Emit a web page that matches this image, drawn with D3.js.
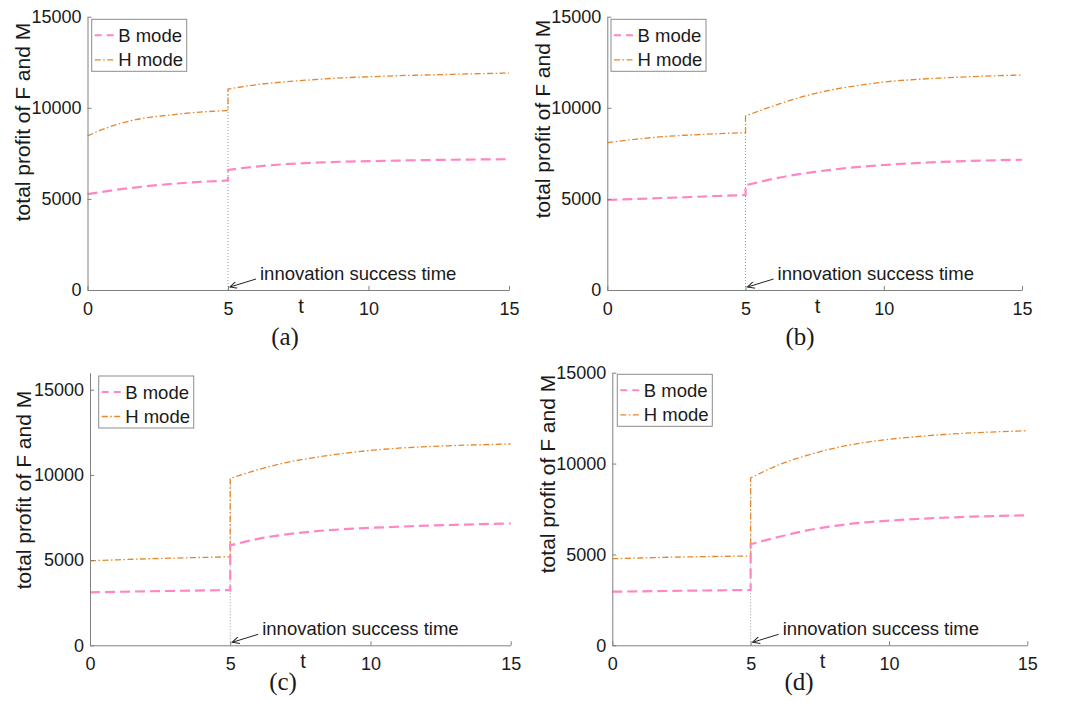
<!DOCTYPE html>
<html>
<head>
<meta charset="utf-8">
<script src="https://cdn.jsdelivr.net/npm/d3@7"></script>
<style>
  body { margin: 0; background: #fff; }
  svg { display: block; }
  text { font-family: "Liberation Sans", Arial, sans-serif; fill: #1a1a1a; }
</style>
</head>
<body>
<svg id="chart"></svg>
<script>
// time points, before and after the innovation success time (t = 5)
const tPre = [0, 1, 2, 3, 4, 5];
const tPost = [5, 6, 7, 8, 9, 10, 11, 12, 13, 14, 15];

const xTicks = [0, 5, 10, 15];
const yTicks = [0, 5000, 10000, 15000];
const yMax = [15000, 15000, 16000, 15000];
const seriesNames = ["B mode", "H mode"];
const panelLabels = ["(a)", "(b)", "(c)", "(d)"];
const successTime = 5;

// (a)
const bPreA  = [5258, 5495, 5678, 5824, 5934, 6007];
const bPostA = [6593, 6776, 6900, 6980, 7040, 7070, 7100, 7130, 7150, 7165, 7179];
const hPreA  = [8460, 9066, 9430, 9615, 9762, 9852];
const hPostA = [11026, 11264, 11420, 11540, 11640, 11703, 11760, 11800, 11840, 11875, 11905];
// (b)
const bPreB  = [4940, 4995, 5050, 5104, 5159, 5214];
const bPostB = [5745, 6100, 6373, 6580, 6739, 6860, 6952, 7023, 7077, 7118, 7149];
const hPreB  = [8085, 8271, 8414, 8507, 8578, 8633];
const hPostB = [9550, 10099, 10580, 10950, 11210, 11416, 11540, 11630, 11700, 11755, 11800];
// (c)
const bPreC  = [3107, 3142, 3168, 3195, 3220, 3241];
const bPostC = [5862, 6250, 6510, 6690, 6810, 6893, 6960, 7020, 7070, 7115, 7151];
const hPreC  = [4959, 5018, 5076, 5117, 5158, 5193];
const hPostC = [9789, 10316, 10727, 11020, 11254, 11440, 11570, 11660, 11725, 11775, 11817];
// (d)
const bPreD  = [2949, 2970, 2990, 3010, 3028, 3043];
const bPostD = [5558, 5959, 6306, 6565, 6746, 6856, 6950, 7020, 7080, 7120, 7153];
const hPreD  = [4765, 4804, 4844, 4873, 4895, 4914];
const hPostD = [9206, 9921, 10433, 10840, 11132, 11335, 11480, 11600, 11690, 11755, 11808];

const panelData = [
  { b: [bPreA, bPostA], h: [hPreA, hPostA] },
  { b: [bPreB, bPostB], h: [hPreB, hPostB] },
  { b: [bPreC, bPostC], h: [hPreC, hPostC] },
  { b: [bPreD, bPostD], h: [hPreD, hPostD] }
];

// layout of each subplot (pixels)
const layout = [
  { left: 87.5, right: 509,   bottom: 290,   top: 16.7,  legX: 91.7,  legY: 19.3,  labX: 285, labY: 345, ylabX: 30,    ylabY: 122 },
  { left: 607.3, right: 1022, bottom: 290,   top: 16.7,  legX: 611,   legY: 19.3,  labX: 800, labY: 345, ylabX: 550,   ylabY: 119 },
  { left: 90,   right: 510.7, bottom: 645.3, top: 372.7, legX: 98.7,  legY: 376,   labX: 283, labY: 690, ylabX: 31,    ylabY: 490 },
  { left: 612.3, right: 1027.3, bottom: 645.3, top: 372.7, legX: 617.3, legY: 374.3, labX: 799, labY: 690, ylabX: 554.5, ylabY: 474 }
];

const W = 1069, H = 702;
const pink = "#ff86c4";
const orange = "#e8862a";
const axisGray = "#808080";

const svg = d3.select("#chart").attr("width", W).attr("height", H);

svg.append("defs").append("marker")
  .attr("id", "arrow")
  .attr("viewBox", "0 0 10 10")
  .attr("refX", 10).attr("refY", 5)
  .attr("markerWidth", 9).attr("markerHeight", 7)
  .attr("markerUnits", "userSpaceOnUse")
  .attr("orient", "auto")
  .append("path")
  .attr("d", "M0,0 L10,5 L0,10")
  .attr("fill", "none")
  .attr("stroke", "#222")
  .attr("stroke-width", 1.4);

layout.forEach((L, i) => {
  const data = panelData[i];
  const x = d3.scaleLinear().domain([0, 15]).range([L.left, L.right]);
  const y = d3.scaleLinear().domain([0, yMax[i]]).range([L.bottom, L.top]);

  const g = svg.append("g");

  const line = d3.line()
    .x(d => x(d[0]))
    .y(d => y(d[1]))
    .curve(d3.curveMonotoneX);

  const pathOf = (pre, post) =>
    line(tPre.map((t, k) => [t, pre[k]])) +
    line(tPost.map((t, k) => [t, post[k]])).replace(/^M/, "L");

  // dotted marker of the success time
  g.append("line")
    .attr("x1", x(successTime)).attr("x2", x(successTime))
    .attr("y1", y(0)).attr("y2", y(data.h[1][0]))
    .attr("stroke", "#9a9a9a")
    .attr("stroke-width", 1)
    .attr("stroke-dasharray", "1,2");

  g.append("path")
    .attr("d", pathOf(data.h[0], data.h[1]))
    .attr("fill", "none")
    .attr("stroke", orange)
    .attr("stroke-width", 1.3)
    .attr("stroke-dasharray", "6,2.5,1.5,2.5");

  g.append("path")
    .attr("d", pathOf(data.b[0], data.b[1]))
    .attr("fill", "none")
    .attr("stroke", pink)
    .attr("stroke-width", 2.2)
    .attr("stroke-dasharray", "10,5");

  // axes, MATLAB style ticks pointing inward
  const xAxis = d3.axisBottom(x).tickValues(xTicks).tickSizeInner(-4).tickSizeOuter(0).tickPadding(12);
  const yAxis = d3.axisLeft(y).tickValues(yTicks).tickFormat(d3.format("d"))
    .tickSizeInner(-4).tickSizeOuter(0).tickPadding(6);

  g.append("g")
    .attr("transform", "translate(0," + L.bottom + ")")
    .call(xAxis)
    .call(a => a.selectAll("path, line").attr("stroke", axisGray))
    .call(a => a.selectAll("text").style("font-size", "18px").attr("fill", "#1a1a1a"));

  g.append("g")
    .attr("transform", "translate(" + L.left + ",0)")
    .call(yAxis)
    .call(a => a.selectAll("path, line").attr("stroke", axisGray))
    .call(a => a.selectAll("text").style("font-size", "18px").attr("fill", "#1a1a1a"));

  // axis titles
  g.append("text")
    .attr("x", x(7.6)).attr("y", L.bottom + 23)
    .attr("text-anchor", "middle")
    .style("font-size", "20px")
    .text("t");

  g.append("text")
    .attr("transform", "translate(" + L.ylabX + "," + L.ylabY + ") rotate(-90)")
    .attr("text-anchor", "middle")
    .style("font-size", "21px")
    .text("total profit of F and M");

  // annotation
  const ax = x(successTime), ay = y(0);
  g.append("line")
    .attr("x1", ax + 28).attr("y1", ay - 11)
    .attr("x2", ax + 2).attr("y2", ay - 3)
    .attr("stroke", "#222")
    .attr("stroke-width", 1)
    .attr("marker-end", "url(#arrow)");

  g.append("text")
    .attr("x", ax + 32).attr("y", ay - 10)
    .style("font-size", "18.5px")
    .text("innovation success time");

  // legend
  const leg = g.append("g").attr("transform", "translate(" + L.legX + "," + L.legY + ")");
  leg.append("rect")
    .attr("width", 95).attr("height", 52)
    .attr("fill", "#fff")
    .attr("stroke", "#8c8c8c")
    .attr("stroke-width", 1);

  seriesNames.forEach((name, k) => {
    const cy = 16 + k * 24.5;
    leg.append("line")
      .attr("x1", 3).attr("x2", 24)
      .attr("y1", cy).attr("y2", cy)
      .attr("stroke", k === 0 ? pink : orange)
      .attr("stroke-width", k === 0 ? 2 : 1.3)
      .attr("stroke-dasharray", k === 0 ? "7,5" : "6,2.5,1.5,2.5");
    leg.append("text")
      .attr("x", 26.5).attr("y", cy + 6.5)
      .style("font-size", "18.5px")
      .text(name);
  });

  // subplot label
  g.append("text")
    .attr("x", L.labX).attr("y", L.labY)
    .attr("text-anchor", "middle")
    .style("font-family", "'Liberation Serif', 'Times New Roman', serif")
    .style("font-size", "25px")
    .text(panelLabels[i]);
});
</script>
</body>
</html>
